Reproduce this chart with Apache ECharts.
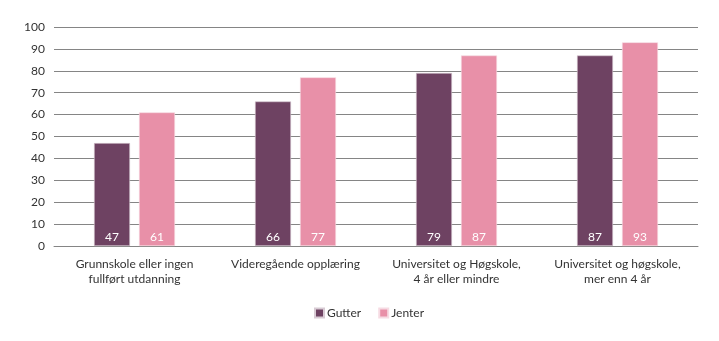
<!DOCTYPE html>
<html><head><meta charset="utf-8">
<script src="https://cdn.jsdelivr.net/npm/echarts@6/dist/echarts.min.js"></script>
<style>html,body{margin:0;padding:0;background:#fff}#c{width:719px;height:341px}</style>
</head><body><div id="c"></div>
<script>
const categories = ["Grunnskole eller ingen\nfullført utdanning", "Videregående opplæring", "Universitet og Høgskole,\n4 år eller mindre", "Universitet og høgskole,\nmer enn 4 år"];
const gutter = [47, 66, 79, 87];
const jenter = [61, 77, 87, 93];
const seriesNames = ["Gutter", "Jenter"];
const FONT = "Lato";
const chart = echarts.init(document.getElementById('c'), null, {renderer: 'canvas'});
const label = {show: true, position: 'insideBottom', distance: 3, color: '#fff', fontFamily: FONT, fontSize: 12};
chart.setOption({
  animation: false,
  textStyle: {fontFamily: FONT},
  grid: {left: 54, right: 21, top: 27, bottom: 95, containLabel: false},
  legend: {
    bottom: 17, left: 309, itemWidth: 9, itemHeight: 9, itemGap: 17,
    icon: 'rect',
    textStyle: {fontFamily: FONT, fontSize: 12, color: '#333', padding: [0, 0, 0, -2]},
    data: seriesNames
  },
  xAxis: {
    type: 'category', data: categories,
    axisLine: {show: true, lineStyle: {color: '#858585', width: 1}},
    axisTick: {show: false},
    axisLabel: {fontFamily: FONT, fontSize: 12, color: '#333', margin: 11, lineHeight: 15, interval: 0}
  },
  yAxis: {
    type: 'value', min: 0, max: 100, interval: 10,
    axisLine: {show: false}, axisTick: {show: false},
    axisLabel: {fontFamily: FONT, fontSize: 12, color: '#333', margin: 9},
    splitLine: {lineStyle: {color: '#858585', width: 1}}
  },
  series: [
    {name: seriesNames[0], type: 'bar', data: gutter, barWidth: 36, barGap: '25%',
     itemStyle: {color: '#6E4262', borderColor: '#d8cbd4', borderWidth: 0.6}, label: label},
    {name: seriesNames[1], type: 'bar', data: jenter, barWidth: 36, barGap: '25%',
     itemStyle: {color: '#E890A8', borderColor: '#f6dbe3', borderWidth: 0.6}, label: label}
  ]
});
</script></body></html>
